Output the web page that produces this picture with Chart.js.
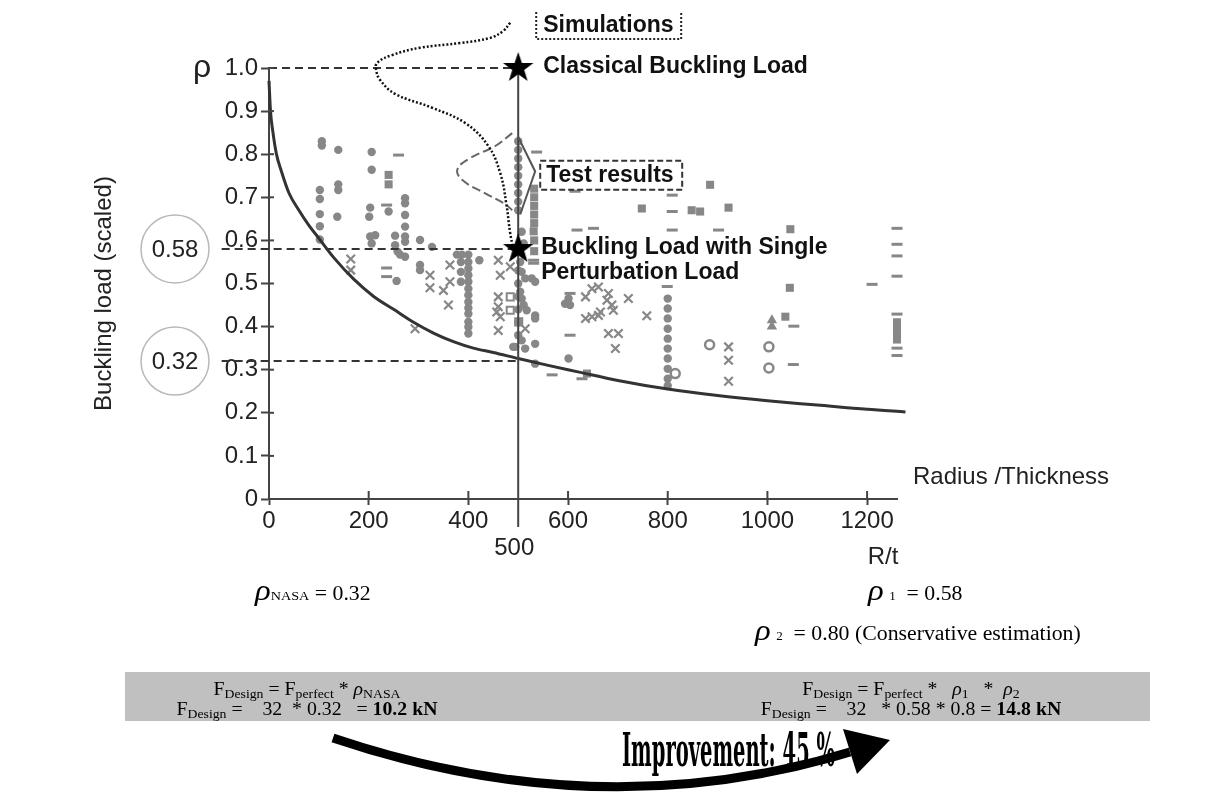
<!DOCTYPE html>
<html><head><meta charset="utf-8">
<script src="https://cdn.jsdelivr.net/npm/chart.js@4.4.1/dist/chart.umd.min.js"></script>
<style>
html,body{margin:0;padding:0;background:#fff;}
#wrap{position:relative;width:1215px;height:792px;overflow:hidden;background:#fff;}
#c{position:absolute;left:0;top:0;}
.tx{position:absolute;font-family:'Liberation Serif','Times New Roman',serif;color:#000;white-space:pre;}
.wx{transform:scaleX(1.09);transform-origin:0 0;}
.wc{transform:scaleX(1.1);transform-origin:50% 0;}
.rho{font-style:italic;font-size:30px;line-height:0;}
.rs{font-style:italic;}
.sb{font-size:12.5px;position:relative;top:3px;}
.ctr{text-align:center;width:600px;}
#imp{font-family:'DejaVu Serif Condensed','DejaVu Serif',serif;font-weight:bold;font-size:46px;line-height:46px;transform-origin:0 0;}
</style></head><body>
<div id="wrap">
<div style="position:absolute;left:125px;top:672px;width:1025px;height:49px;background:#c0c0c0"></div>
<canvas id="c" width="1215" height="792"></canvas>
<div class="tx wx" style="left:255px;top:583px;font-size:20px;line-height:20px"><span class="rho">ρ</span><span style="font-size:13px">NASA</span> = 0.32</div>
<div class="tx wx" style="left:868px;top:583px;font-size:20px;line-height:20px"><span class="rho">ρ</span> <span style="font-size:12px">1</span>  = 0.58</div>
<div class="tx wx" style="left:755px;top:623px;font-size:20px;line-height:20px"><span class="rho">ρ</span> <span style="font-size:12px">2</span>  = 0.80 (Conservative estimation)</div>
<div class="tx ctr wc" style="left:7px;top:680px;font-size:18px;line-height:18px">F<span class="sb">Design</span> = F<span class="sb">perfect</span> * <span class="rs">ρ</span><span class="sb">NASA</span></div>
<div class="tx ctr wc" style="left:7px;top:700px;font-size:18px;line-height:18px">F<span class="sb">Design</span> =    32  * 0.32   = <b>10.2 kN</b></div>
<div class="tx ctr wc" style="left:611px;top:680px;font-size:18px;line-height:18px">F<span class="sb">Design</span> = F<span class="sb">perfect</span> *   <span class="rs">ρ</span><span class="sb">1</span>   *  <span class="rs">ρ</span><span class="sb">2</span></div>
<div class="tx ctr wc" style="left:611px;top:700px;font-size:18px;line-height:18px">F<span class="sb">Design</span> =    32   * 0.58 * 0.8 = <b>14.8 kN</b></div>
<svg style="position:absolute;left:0;top:0" width="1215" height="792">
<path d="M333,738 Q600,828 850,752" stroke="#000" stroke-width="9" fill="none"/>
<polygon points="843,729 890,740 857,774" fill="#000"/>
</svg>
<div id="imp" class="tx" style="left:622px;top:727px;">Improvement: 45 %</div>
</div>
<script>
// ---- axis ticks ----
const xTickValues = [0, 200, 400, 600, 800, 1000, 1200];
const yTickValues = [0, 0.1, 0.2, 0.3, 0.4, 0.5, 0.6, 0.7, 0.8, 0.9, 1.0];
const yTickLabels = ['0', '0.1', '0.2', '0.3', '0.4', '0.5', '0.6', '0.7', '0.8', '0.9', '1.0'];

// ---- lower-bound (NASA) curve ----
const nasaX = [0, 3, 8, 15, 25, 40, 60, 80, 100, 130, 170, 210, 250, 290, 330, 370, 410, 450, 500, 560, 620, 700, 800, 900, 1000, 1100, 1200, 1277];
const nasaY = [0.97, 0.90, 0.85, 0.80, 0.76, 0.71, 0.67, 0.635, 0.605, 0.56, 0.51, 0.47, 0.44, 0.41, 0.385, 0.365, 0.35, 0.34, 0.326, 0.31, 0.295, 0.275, 0.255, 0.24, 0.228, 0.218, 0.208, 0.202];

// ---- simulations distribution (dotted) ----
const simX = [484, 470, 444, 384, 303, 247, 217, 215, 223, 253, 329, 394, 440, 464, 476, 484, 490];
const simY = [1.105, 1.086, 1.070, 1.058, 1.047, 1.030, 1.012, 0.995, 0.972, 0.940, 0.907, 0.872, 0.819, 0.756, 0.686, 0.616, 0.581];

// ---- test results distribution (dashed) ----
const testX = [488, 454, 404, 378, 388, 434, 474, 488];
const testY = [0.849, 0.819, 0.791, 0.765, 0.740, 0.709, 0.684, 0.670];

// ---- test results bracket ----
const bracketX = [500, 534, 504];
const bracketY = [0.84, 0.76, 0.66];

// ---- key values ----
const designR = 500;
const rhoClassical = 1.0;
const rhoSPL = 0.58;
const rhoNASA = 0.32;
const leftExt = -95;

// ---- test data (R/t, scaled buckling load) ----
const filledCircles = [
 [106,.83],[106,.82],[139,.81],[206,.805],[206,.764],
 [102,.717],[102,.696],[102,.661],[102,.633],[102,.602],
 [139,.73],[139,.717],[137,.655],
 [203,.676],[201,.655],[203,.609],[213,.612],[206,.593],
 [240,.667],
 [273,.698],[273,.686],[273,.659],[273,.632],[273,.609],[273,.597],
 [253,.611],[253,.589],[258,.574],[263,.567],[273,.562],
 [303,.601],[327,.585],[303,.543],[303,.531],[256,.506],
 [377,.567],[387,.567],
 [400,.567],[400,.55],[400,.535],[400,.519],[400,.504],[400,.488],[400,.473],[400,.457],[400,.443],[400,.43],[400,.411],[400,.399],[400,.384],
 [385,.55],[385,.527],[385,.504],
 [422,.554],[490,.353],
 [500,.83],[500,.81],[500,.79],[500,.77],[500,.75],[500,.73],[500,.71],[500,.69],[500,.67],
 [500,.53],[500,.5],[500,.47],[500,.44],[500,.41],[500,.38],
 [507,.62],[511,.593],[504,.55],[507,.527],[514,.512],[527,.512],[534,.504],[504,.481],[507,.465],[511,.45],[517,.438],[534,.426],[534,.419],[507,.368],[514,.349],[534,.36],[494,.353],[534,.314],
 [594,.453],[604,.45],[601,.465],[601,.326],
 [800,.465],[800,.442],[800,.419],[800,.395],[800,.372],[800,.349],[800,.326],[800,.302],[800,.279],[800,.263]
];
const filledSquares = [
 [240,.752],[240,.73],[885,.729],[748,.674],[848,.67],[865,.667],[922,.676],[1046,.626],[1045,.49],[1036,.423],[638,.291],[531,.621],
 [532,.72],[532,.70],[532,.68],[532,.66],[532,.64],[532,.60],[532,.575],
 [1260,.41],[1260,.40],[1260,.39],[1260,.38],[1260,.37]
];
const dashes = [
 [260,.798],[236,.682],[236,.536],[236,.516],[537,.805],[809,.705],[809,.667],[809,.624],[614,.714],[618,.624],[651,.628],[902,.624],[1053,.401],[1052,.312],[1210,.498],
 [1260,.628],[1260,.591],[1260,.564],[1260,.517],[1260,.429],[1260,.35],[1260,.333],
 [604,.477],[604,.38],[568,.288],[628,.279],[531,.554],[531,.547],[799,.493]
];
const crosses = [
 [164,.557],[164,.531],[293,.395],[323,.519],[323,.49],[363,.543],[363,.504],[350,.484],[360,.45],
 [460,.554],[464,.519],[484,.539],[460,.469],[460,.446],[457,.434],[464,.423],[460,.391],[514,.395],
 [635,.469],[648,.488],[661,.492],[681,.477],[678,.461],[688,.45],[691,.438],[721,.465],[635,.419],[648,.423],[661,.426],[665,.434],[681,.384],[701,.384],[695,.349],[758,.425],
 [922,.353],[922,.322],[922,.273]
];
const openCircles = [[815,.291],[884,.358],[1003,.353],[1003,.304]];
const openSquares = [[484,.469],[484,.438],[501,.411]];
const triangles = [[1009,.415],[1009,.40]];

// ---- helpers ----
const pts = arr => arr.map(([x, y]) => ({x, y}));
const zipXY = (xs, ys) => xs.map((x, i) => ({x, y: ys[i]}));
const GRAY = '#878787';

// fit the condensed "Improvement" banner to the reference width
(function () {
  const el = document.getElementById('imp');
  const w = el.getBoundingClientRect().width;
  el.style.transform = 'scaleX(' + (213 / w) + ')';
})();

function starImg(R, r) {
  const c = document.createElement('canvas');
  c.width = c.height = 2 * R + 2;
  const g = c.getContext('2d');
  g.translate(R + 1, R + 1);
  g.beginPath();
  for (let i = 0; i < 10; i++) {
    const a = -Math.PI / 2 + i * Math.PI / 5;
    const rr = i % 2 ? r : R;
    g.lineTo(rr * Math.cos(a), rr * Math.sin(a));
  }
  g.closePath();
  g.fillStyle = '#000';
  g.fill();
  return c;
}
const STAR = starImg(16, 6.3);

const SANS = '"Liberation Sans", Arial, sans-serif';

const deco = {
  id: 'deco',
  afterDraw(chart) {
    const {ctx, scales: {x, y}} = chart;
    const X = v => x.getPixelForValue(v), Y = v => y.getPixelForValue(v);
    ctx.save();
    // inner halves of tick marks
    ctx.strokeStyle = '#444'; ctx.lineWidth = 2;
    y.ticks.forEach(t => { const py = Y(t.value); ctx.beginPath(); ctx.moveTo(x.left, py); ctx.lineTo(x.left + 5, py); ctx.stroke(); });
    x.ticks.forEach(t => { const px = X(t.value); ctx.beginPath(); ctx.moveTo(px, y.bottom); ctx.lineTo(px, y.bottom - 8); ctx.stroke(); });

    ctx.fillStyle = '#222';
    // rho symbol
    ctx.font = '32px ' + SANS; ctx.textAlign = 'center'; ctx.textBaseline = 'alphabetic';
    ctx.fillText('ρ', 202, Y(rhoClassical) + 9);
    // y title
    ctx.save();
    ctx.translate(104, (y.top + y.bottom) / 2 + 10);
    ctx.rotate(-Math.PI / 2);
    ctx.font = '24px ' + SANS; ctx.textBaseline = 'middle';
    ctx.fillText('Buckling load (scaled)', 0, 0);
    ctx.restore();
    // circled values
    [rhoSPL, rhoNASA].forEach(v => {
      ctx.beginPath(); ctx.arc(175, Y(v), 34, 0, Math.PI * 2);
      ctx.strokeStyle = '#b8b8b8'; ctx.lineWidth = 1.5; ctx.stroke();
      ctx.font = '24px ' + SANS; ctx.textAlign = 'center'; ctx.textBaseline = 'middle';
      ctx.fillText(v.toFixed(2), 175, Y(v) + 1);
    });
    // x extras
    ctx.font = '24px ' + SANS; ctx.textAlign = 'center'; ctx.textBaseline = 'middle';
    ctx.fillText(String(designR), X(designR) - 4, 548);
    ctx.fillText('R/t', X(1200) + 16, 557);
    ctx.textAlign = 'left';
    ctx.fillText('Radius /Thickness', x.right + 16, 477);

    // annotations
    const lx = X(designR) + 25;
    ctx.fillStyle = '#111';
    ctx.font = 'bold 23px ' + SANS; ctx.textBaseline = 'middle'; ctx.textAlign = 'left';
    ctx.fillText('Simulations', lx, Y(rhoClassical) - 42);
    ctx.fillText('Classical Buckling Load', lx, Y(rhoClassical) - 1);
    ctx.fillText('Test results', lx + 3, Y(0.75));
    ctx.fillText('Buckling Load with Single', lx - 2, Y(rhoSPL) - 1);
    ctx.fillText('Perturbation Load', lx - 2, Y(rhoSPL) + 24);
    // simulations box (dotted, open top)
    ctx.strokeStyle = '#222'; ctx.lineWidth = 2; ctx.setLineDash([2, 2]);
    let bx = lx - 7, bt = Y(rhoClassical) - 56, bb = Y(rhoClassical) - 29, br = bx + 145;
    ctx.beginPath(); ctx.moveTo(bx, bt); ctx.lineTo(bx, bb); ctx.lineTo(br, bb); ctx.lineTo(br, bt); ctx.stroke();
    // test results box (dashed)
    ctx.setLineDash([6, 3]); ctx.strokeStyle = '#333';
    ctx.strokeRect(lx - 3, Y(0.75) - 15, 142, 29);
    ctx.restore();
  }
};

const lineDs = (data, color, width, dash, order, extra) => Object.assign({
  data, showLine: true, pointRadius: 0, borderColor: color, borderWidth: width,
  borderDash: dash, fill: false, clip: false, order
}, extra || {});

new Chart(document.getElementById('c'), {
  type: 'scatter',
  data: {
    datasets: [
      {data: [{x: designR, y: rhoClassical}, {x: designR, y: rhoSPL}], pointStyle: STAR, pointRadius: 16, clip: false, order: 0},
      lineDs(zipXY(nasaX, nasaY), '#333', 3, [], 3, {cubicInterpolationMode: 'monotone'}),
      lineDs([{x: designR, y: rhoClassical}, {x: designR, y: -0.065}], '#444', 2, [], 2),
      lineDs([{x: 0, y: rhoClassical}, {x: designR, y: rhoClassical}], '#333', 2, [8, 5], 4),
      lineDs([{x: leftExt, y: rhoSPL}, {x: designR, y: rhoSPL}], '#333', 2, [8, 5], 4),
      lineDs([{x: leftExt, y: rhoNASA}, {x: designR, y: rhoNASA}], '#333', 2, [8, 5], 4),
      lineDs(zipXY(simX, simY), '#111', 2.5, [2, 2], 1, {tension: 0.4}),
      lineDs(zipXY(testX, testY), '#666', 2, [9, 4], 1, {tension: 0.4}),
      lineDs(zipXY(bracketX, bracketY), '#555', 2, [], 1),
      {data: pts(filledCircles), pointStyle: 'circle', pointRadius: 4.2, backgroundColor: GRAY, borderWidth: 0, clip: false, order: 20},
      {data: pts(filledSquares), pointStyle: 'rect', pointRadius: 5.7, backgroundColor: GRAY, borderWidth: 0, clip: false, order: 20},
      {data: pts(dashes), pointStyle: 'line', pointRadius: 5.5, borderColor: GRAY, borderWidth: 3, clip: false, order: 20},
      {data: pts(crosses), pointStyle: 'crossRot', pointRadius: 6, borderColor: GRAY, borderWidth: 2.2, clip: false, order: 20},
      {data: pts(openCircles), pointStyle: 'circle', pointRadius: 4.5, backgroundColor: '#fff', borderColor: GRAY, borderWidth: 2.5, clip: false, order: 20},
      {data: pts(openSquares), pointStyle: 'rect', pointRadius: 5, backgroundColor: '#fff', borderColor: GRAY, borderWidth: 2, clip: false, order: 20},
      {data: pts(triangles), pointStyle: 'triangle', pointRadius: 6, backgroundColor: GRAY, borderWidth: 0, clip: false, order: 20}
    ]
  },
  options: {
    responsive: false, animation: false, devicePixelRatio: 1,
    layout: {padding: {top: 68, right: 318, bottom: 0, left: 0}},
    plugins: {legend: {display: false}, tooltip: {enabled: false}},
    scales: {
      x: {
        type: 'linear', min: 0, max: 1260,
        afterFit(s) { s.height = 293; },
        afterBuildTicks(s) { s.ticks = xTickValues.map(v => ({value: v})); },
        border: {display: true, color: '#444', width: 2},
        grid: {display: true, drawOnChartArea: false, drawTicks: true, tickLength: 6, tickColor: '#444', tickWidth: 2},
        ticks: {autoSkip: false, maxRotation: 0, padding: 2, color: '#222', font: {family: 'Liberation Sans', size: 24},
          callback: v => String(v)}
      },
      y: {
        type: 'linear', min: 0, max: 1,
        afterFit(s) { s.width = 269; },
        afterBuildTicks(s) { s.ticks = yTickValues.map(v => ({value: v})); },
        border: {display: true, color: '#444', width: 2},
        grid: {display: true, drawOnChartArea: false, drawTicks: true, tickLength: 8, tickColor: '#444', tickWidth: 2},
        ticks: {autoSkip: false, padding: 3, color: '#222', font: {family: 'Liberation Sans', size: 24},
          callback: (v, i) => yTickLabels[i]}
      }
    }
  },
  plugins: [deco]
});
</script>
</body></html>
